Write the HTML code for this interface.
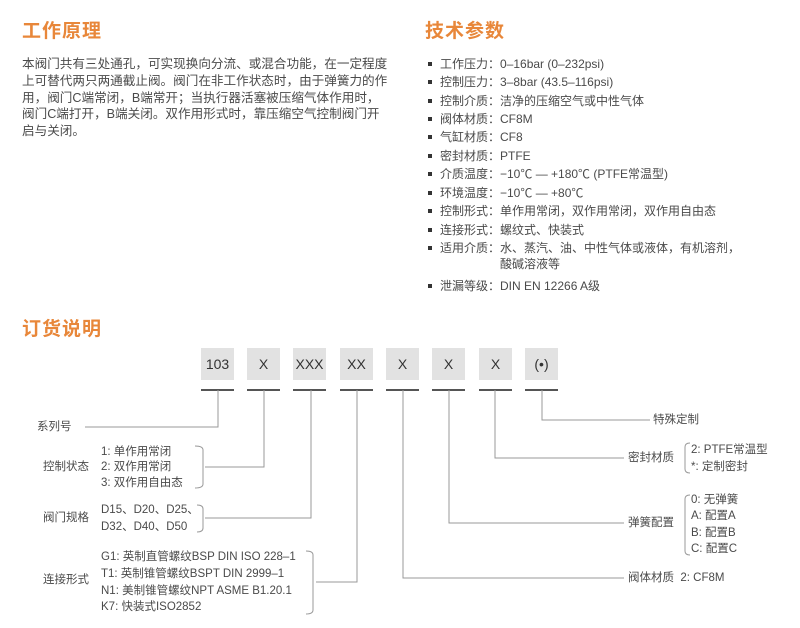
<!DOCTYPE html>
<html><head><meta charset="utf-8"><style>
body{margin:0;width:800px;height:628px;background:#fff;position:relative;overflow:hidden;font-family:"Liberation Sans","Noto Sans CJK SC",sans-serif;color:#4a4a4a}
.t{position:absolute;font-size:19px;font-weight:bold;color:#e8873a;letter-spacing:1px}
.a{position:absolute;font-size:11.5px;white-space:nowrap;line-height:16px}
.p{position:absolute;left:22px;top:56px;font-size:12.6px;line-height:16.8px;color:#4a4a4a;white-space:nowrap}
.li{position:absolute;left:428px;font-size:12px;white-space:nowrap;line-height:16px;height:16px}
.li:before{content:"";position:absolute;left:0;top:6px;width:4px;height:4px;background:#333}
.li span{position:absolute;left:12px;top:0}
.li b{font-weight:normal;position:absolute;left:72px;top:0}
.bx{position:absolute;top:348px;width:33px;height:32px;background:#e2e2e2;color:#333;font-size:14px;text-align:center;line-height:32px}
</style></head><body>
<div class="t" style="left:22px;top:16px">工作原理</div>
<div class="t" style="left:425px;top:16px">技术参数</div>
<div class="t" style="left:22px;top:314px">订货说明</div>
<div class="p">本阀门共有三处通孔，可实现换向分流、或混合功能，在一定程度<br>上可替代两只两通截止阀。阀门在非工作状态时，由于弹簧力的作<br>用，阀门C端常闭，B端常开；当执行器活塞被压缩气体作用时，<br>阀门C端打开，B端关闭。双作用形式时，靠压缩空气控制阀门开<br>启与关闭。</div>
<div class="li" style="top:56px"><span>工作压力：</span><b>0–16bar (0–232psi)</b></div>
<div class="li" style="top:74px"><span>控制压力：</span><b>3–8bar (43.5–116psi)</b></div>
<div class="li" style="top:93px"><span>控制介质：</span><b>洁净的压缩空气或中性气体</b></div>
<div class="li" style="top:111px"><span>阀体材质：</span><b>CF8M</b></div>
<div class="li" style="top:129px"><span>气缸材质：</span><b>CF8</b></div>
<div class="li" style="top:148px"><span>密封材质：</span><b>PTFE</b></div>
<div class="li" style="top:166px"><span>介质温度：</span><b>−10℃ — +180℃ (PTFE常温型)</b></div>
<div class="li" style="top:185px"><span>环境温度：</span><b>−10℃ — +80℃</b></div>
<div class="li" style="top:203px"><span>控制形式：</span><b>单作用常闭，双作用常闭，双作用自由态</b></div>
<div class="li" style="top:222px"><span>连接形式：</span><b>螺纹式、快装式</b></div>
<div class="li" style="top:240px"><span>适用介质：</span><b>水、蒸汽、油、中性气体或液体，有机溶剂，<br>酸碱溶液等</b></div>
<div class="li" style="top:278px"><span>泄漏等级：</span><b>DIN EN 12266 A级</b></div>

<div class="bx" style="left:201px">103</div>
<div class="bx" style="left:247px">X</div>
<div class="bx" style="left:293px">XXX</div>
<div class="bx" style="left:340px">XX</div>
<div class="bx" style="left:386px">X</div>
<div class="bx" style="left:432px">X</div>
<div class="bx" style="left:479px">X</div>
<div class="bx" style="left:525px">(•)</div>

<svg style="position:absolute;left:0;top:0" width="800" height="628">
<g stroke="#555" stroke-width="2">
<line x1="201" y1="390" x2="234" y2="390"/><line x1="247" y1="390" x2="280" y2="390"/>
<line x1="293" y1="390" x2="326" y2="390"/><line x1="340" y1="390" x2="373" y2="390"/>
<line x1="386" y1="390" x2="419" y2="390"/><line x1="432" y1="390" x2="465" y2="390"/>
<line x1="479" y1="390" x2="512" y2="390"/><line x1="525" y1="390" x2="558" y2="390"/>
</g>
<g stroke="#999" stroke-width="1" fill="none">
<polyline points="218,390 218,427 85,427"/>
<polyline points="264,390 264,467 205,467"/>
<polyline points="311,390 311,518 205,518"/>
<polyline points="357,390 357,582 316,582"/>
<polyline points="403,390 403,578 624,578"/>
<polyline points="449,390 449,523 624,523"/>
<polyline points="495,390 495,458 624,458"/>
<polyline points="542,390 542,420 650,420"/>
<path d="M195,446 Q203,446 203,450 L203,484 Q203,488 195,488"/>
<path d="M197,505 Q203,505 203,509 L203,528 Q203,532 197,532"/>
<path d="M306,551 Q313,551 313,555 L313,610 Q313,614 306,614"/>
<path d="M690,443 Q685,443 685,447 L685,469 Q685,473 690,473"/>
<path d="M690,495 Q685,495 685,499 L685,551 Q685,555 690,555"/>
</g>
</svg>
<div class="a" style="left:37px;top:419px">系列号</div>
<div class="a" style="left:43px;top:459px">控制状态</div>
<div class="a" style="left:101px;top:444px">1: 单作用常闭</div>
<div class="a" style="left:101px;top:459px">2: 双作用常闭</div>
<div class="a" style="left:101px;top:475px">3: 双作用自由态</div>
<div class="a" style="left:43px;top:510px">阀门规格</div>
<div class="a" style="left:101px;top:502px">D15、D20、D25、</div>
<div class="a" style="left:101px;top:519px">D32、D40、D50</div>
<div class="a" style="left:43px;top:572px">连接形式</div>
<div class="a" style="left:101px;top:549px">G1: 英制直管螺纹BSP DIN ISO 228–1</div>
<div class="a" style="left:101px;top:566px">T1: 英制锥管螺纹BSPT DIN 2999–1</div>
<div class="a" style="left:101px;top:583px">N1: 美制锥管螺纹NPT ASME B1.20.1</div>
<div class="a" style="left:101px;top:599px">K7: 快装式ISO2852</div>
<div class="a" style="left:653px;top:412px">特殊定制</div>
<div class="a" style="left:628px;top:450px">密封材质</div>
<div class="a" style="left:691px;top:442px">2: PTFE常温型</div>
<div class="a" style="left:691px;top:459px">*: 定制密封</div>
<div class="a" style="left:628px;top:515px">弹簧配置</div>
<div class="a" style="left:691px;top:492px">0: 无弹簧</div>
<div class="a" style="left:691px;top:508px">A: 配置A</div>
<div class="a" style="left:691px;top:525px">B: 配置B</div>
<div class="a" style="left:691px;top:541px">C: 配置C</div>
<div class="a" style="left:628px;top:570px">阀体材质&nbsp;&nbsp;2: CF8M</div>
</body></html>
